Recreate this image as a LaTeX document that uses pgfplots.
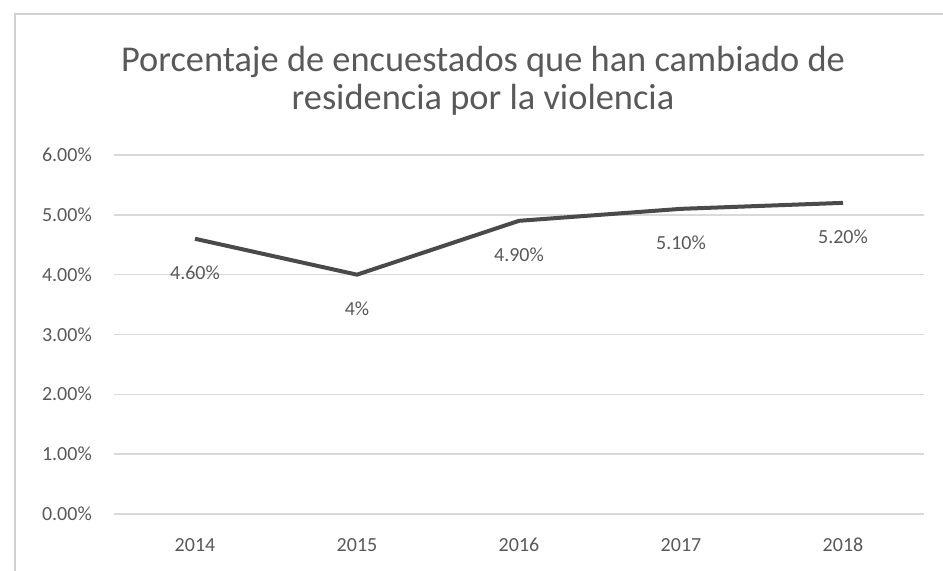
\documentclass[border=0pt]{standalone}
\usepackage{fontspec}
\setmainfont{Carlito}
\usepackage{pgfplots}
\pgfplotsset{compat=1.18}
\definecolor{txt}{HTML}{595959}
\definecolor{gridc}{HTML}{D9D9D9}
\definecolor{linec}{HTML}{4A4A4A}
\definecolor{frame}{HTML}{D0D0D0}
\begin{document}
\begin{tikzpicture}
\useasboundingbox (0,0) rectangle (943bp,571bp);
\draw[frame, line width=2bp] (15bp,0) -- (15bp,557bp) -- (943bp,557bp);
\node[txt, font=\fontsize{36.4bp}{38bp}\selectfont, align=center] at (483bp,490bp)
  {Porcentaje de encuestados que han cambiado de\\residencia por la violencia};
\begin{axis}[
  at={(114bp,57bp)}, anchor=south west,
  scale only axis, width=810bp, height=359bp,
  xmin=-0.5, xmax=4.5, ymin=0, ymax=6,
  xtick={0,1,2,3,4},
  xticklabels={2014,2015,2016,2017,2018},
  ytick={0,1,2,3,4,5,6},
  yticklabel={\pgfmathprintnumber[fixed,fixed zerofill,precision=2]{\tick}\%},
  /pgf/number format/assume math mode=true,
  axis line style={draw=none},
  major tick length=0pt,
  ymajorgrids,
  grid style={gridc, line width=1.5bp},
  ticklabel style={font=\fontsize{20bp}{22bp}\selectfont, text=txt, inner sep=0pt, text height=13bp, text depth=0pt},
  yticklabel shift=22bp,
  xticklabel shift=24bp,
  clip=false,
  nodes near coords,
  point meta=explicit symbolic,
  nodes near coords style={font=\fontsize{20bp}{22bp}\selectfont, text=txt, anchor=center, yshift=-34bp, inner sep=0pt, text height=13bp, text depth=0pt},
]
\addplot[linec, line width=4bp, mark=none] table[meta=lab] {
x y lab
0 4.6 4.60\%
1 4.0 4\%
2 4.9 4.90\%
3 5.1 5.10\%
4 5.2 5.20\%
};
\end{axis}
\end{tikzpicture}
\end{document}
